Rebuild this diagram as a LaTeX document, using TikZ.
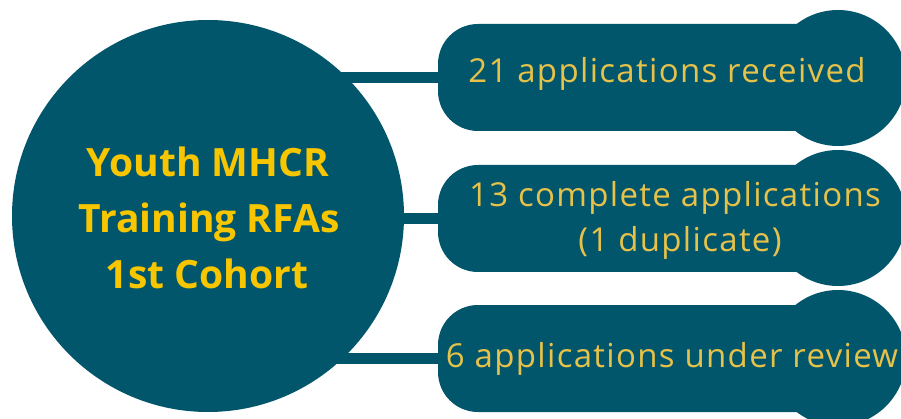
\documentclass[tikz,border=0pt]{standalone}
\usepackage{fontspec}
\setmainfont{Open Sans}
\newfontfamily\pillfont[LetterSpace=4]{Open Sans}
\usetikzlibrary{backgrounds}
\definecolor{tealbg}{HTML}{02566B}
\definecolor{pilltext}{HTML}{E6C24A}
\definecolor{titletext}{HTML}{F7C600}
\tikzset{
  hubnode/.style={circle, fill=tealbg, minimum size=392pt, inner sep=0pt},
  pillbody/.style={rectangle, rounded corners=40pt, fill=tealbg, minimum width=402pt, minimum height=107pt, inner sep=0pt},
  bulb/.style={circle, fill=tealbg, minimum size=136pt, inner sep=0pt},
  conn/.style={draw=tealbg, line width=11pt},
  titleline/.style={text=titletext, font=\fontsize{39}{44}\selectfont\bfseries, anchor=base, inner sep=0pt},
  pillline/.style={text=pilltext, font=\pillfont\fontsize{33}{38}\selectfont, anchor=base, inner sep=0pt}
}
\begin{document}
\begin{tikzpicture}[x=1pt,y=-1pt]
\path[use as bounding box, clip] (0,0) rectangle (901,419);
\node[hubnode] (hub) at (208,216) {};
\node[pillbody] (p1) at (639,77.5) {};
\node[bulb] (b1) at (838,78) {};
\node[pillbody] (p2) at (639,218.5) {};
\node[bulb] (b2) at (838,218) {};
\node[pillbody] (p3) at (639,358.5) {};
\node[bulb] (b3) at (838,358) {};
\begin{scope}[on background layer]
  \draw[conn] (hub.center |- p1.west) -- (p1.west);
  \draw[conn] (hub.center |- p2.west) -- (p2.west);
  \draw[conn] (hub.center |- p3.west) -- (p3.west);
\end{scope}
\node[titleline] (h1) at (208,177) {Youth MHCR};
\node[titleline] (h2) at (209,233) {Training RFAs};
\node[titleline] (h3) at (207,288) {1st Cohort};
\node[pillline] (l1) at (667,83) {21 applications received};
\node[pillline] (l2a) at (675,207) {13 complete applications};
\node[pillline] (l2b) at (680,252) {(1 duplicate)};
\node[pillline] (l3) at (672,367) {6 applications under review};
\end{tikzpicture}
\end{document}
